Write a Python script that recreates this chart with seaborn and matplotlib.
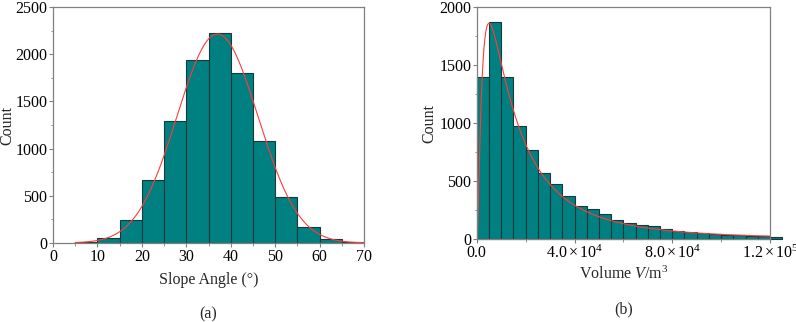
import numpy as np
import pandas as pd
import matplotlib
matplotlib.use("Agg")
import matplotlib.pyplot as plt
import seaborn as sns
from matplotlib.ticker import FuncFormatter, MultipleLocator

# (a) slope angle histogram, 5 degree bins from 5 to 70
slope_edges = [5, 10, 15, 20, 25, 30, 35, 40, 45, 50, 55, 60, 65, 70]
slope_counts = [10, 56, 239, 666, 1292, 1944, 2225, 1803, 1081, 489, 172, 45, 14]
# normal fit
norm_mean = 37.0
norm_sd = 9.1
norm_peak = 2215

# (b) volume histogram, 5000 m3 bins from 0 to 125000
vol_edges = list(range(0, 130000, 5000))
vol_counts = [1395, 1868, 1401, 972, 771, 570, 477, 368, 282, 262, 216, 167,
              135, 120, 108, 88, 70, 60, 52, 45, 38, 32, 28, 22, 15]
# lognormal fit
logn_mu = 9.684
logn_sigma = 1.08
logn_peak = 1860

sns.set_style("ticks")
plt.rcParams["font.family"] = ["Liberation Serif", "DejaVu Serif"]
plt.rcParams["mathtext.fontset"] = "custom"
plt.rcParams["mathtext.rm"] = "Liberation Serif"
plt.rcParams["mathtext.it"] = "Liberation Serif:italic"
FS = 11.5
plt.rcParams["font.size"] = FS

BAR = "#008080"
EDGE = "#17393a"
RED = "#ff3b3b"
FRAME = "#808080"

fig = plt.figure(figsize=(7.96, 3.22), dpi=100)
ax1 = fig.add_axes([0.0665, 0.2453, 0.391, 0.7327])
ax2 = fig.add_axes([0.599, 0.2578, 0.3683, 0.7202])


def style_axes(ax):
    for sp in ax.spines.values():
        sp.set_color(FRAME)
        sp.set_linewidth(0.9)
    ax.tick_params(which="both", direction="out", colors=FRAME,
                   labelcolor="black", labelsize=FS, top=False, right=False)
    ax.tick_params(which="major", length=3, width=0.8, pad=1)
    ax.tick_params(which="minor", length=1.8, width=0.6)


# --- (a)
df_a = pd.DataFrame({
    "angle": [(a + b) / 2 for a, b in zip(slope_edges[:-1], slope_edges[1:])],
    "count": slope_counts,
})
sns.histplot(data=df_a, x="angle", weights="count", bins=slope_edges,
             color=BAR, edgecolor=EDGE, linewidth=0.8, alpha=1, ax=ax1)
xa = np.linspace(slope_edges[0], slope_edges[-1], 300)
ya = norm_peak * np.exp(-0.5 * ((xa - norm_mean) / norm_sd) ** 2)
sns.lineplot(x=xa, y=ya, color=RED, linewidth=0.8, ax=ax1)
ax1.set_xlim(0, 70)
ax1.set_ylim(0, 2500)
ax1.xaxis.set_major_locator(MultipleLocator(10))
ax1.xaxis.set_minor_locator(MultipleLocator(5))
ax1.yaxis.set_major_locator(MultipleLocator(500))
ax1.yaxis.set_minor_locator(MultipleLocator(250))
ax1.set_xlabel("Slope Angle (°)", fontsize=FS, labelpad=5)
ax1.set_ylabel("Count", fontsize=FS, labelpad=0)
style_axes(ax1)
ax1.text(0.5, -0.27, "(a)", transform=ax1.transAxes, ha="center", va="top",
         fontsize=FS)

# --- (b)
df_b = pd.DataFrame({
    "volume": [(a + b) / 2 for a, b in zip(vol_edges[:-1], vol_edges[1:])],
    "count": vol_counts,
})
sns.histplot(data=df_b, x="volume", weights="count", bins=vol_edges,
             color=BAR, edgecolor=EDGE, linewidth=0.8, alpha=1, ax=ax2)
for p in ax2.patches:
    p.set_clip_on(False)
xb = np.linspace(50, 120000, 2000)
lnx = np.log(xb)
mode = np.exp(logn_mu - logn_sigma ** 2)
yb = (mode / xb) * np.exp(-((lnx - logn_mu) ** 2 - logn_sigma ** 4)
                          / (2 * logn_sigma ** 2)) * logn_peak
sns.lineplot(x=np.r_[0, xb], y=np.r_[0, yb], color=RED, linewidth=0.8, ax=ax2)
ax2.set_xlim(0, 120000)
ax2.set_ylim(0, 2000)
ax2.xaxis.set_major_locator(MultipleLocator(40000))
ax2.xaxis.set_minor_locator(MultipleLocator(20000))
ax2.yaxis.set_major_locator(MultipleLocator(500))
ax2.yaxis.set_minor_locator(MultipleLocator(250))


def sci_fmt(v, pos):
    if v == 0:
        return "0.0"
    e = int(np.floor(np.log10(abs(v))))
    m = v / 10 ** e
    return r"$\mathregular{%.1f\times10^{%d}}$" % (m, e)


ax2.xaxis.set_major_formatter(FuncFormatter(sci_fmt))
ax2.set_xlabel(r"Volume $\mathit{V}$/m$^{3}$", fontsize=FS, labelpad=3)
ax2.set_ylabel("Count", fontsize=FS, labelpad=1)
style_axes(ax2)
ax2.text(0.5, -0.27, "(b)", transform=ax2.transAxes, ha="center", va="top",
         fontsize=FS)

fig.savefig("out.png", dpi=100)
